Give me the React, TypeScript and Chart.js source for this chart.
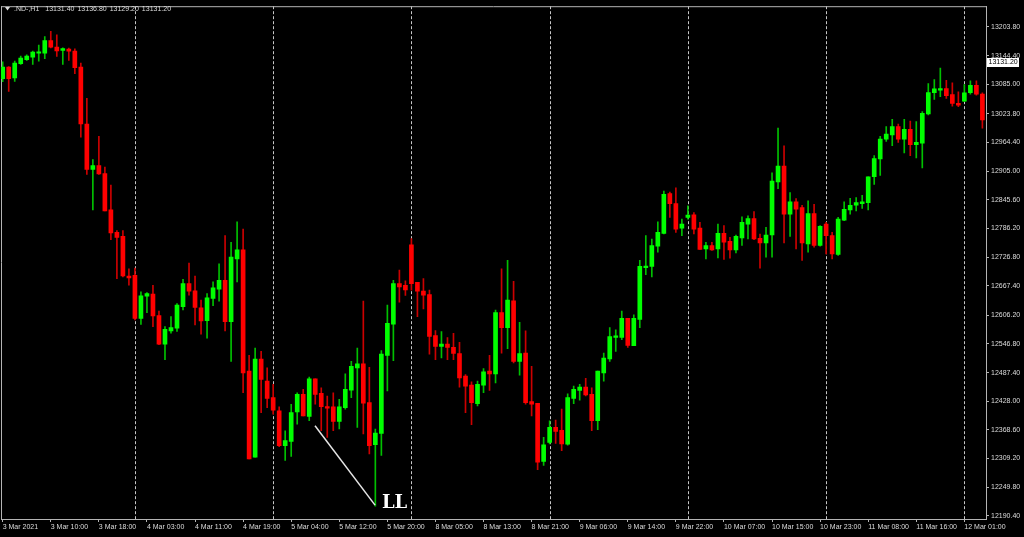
import React, { useEffect, useRef } from 'react';
import { Chart, registerables } from 'chart.js';

Chart.register(...registerables);

// ---- Data (hourly OHLC, .ND-,H1) ----
const opens = [
  13096.8, 13120.9, 13098.2, 13127.6, 13135.9, 13141.4, 13149.6, 13149.6, 13175.5, 13162.0,
  13155.0, 13157.9, 13153.8, 13120.9, 13002.8, 12908.3, 12916.5, 12900.0, 12824.8, 12778.1,
  12769.9, 12687.7, 12689.1, 12599.9, 12645.9, 12650.0, 12605.4, 12546.4, 12574.0, 12579.3,
  12623.9, 12671.8, 12656.8, 12621.9, 12595.1, 12641.0, 12660.3, 12678.8, 12593.1, 12723.2,
  12741.7, 12490.3, 12312.0, 12515.6, 12469.7, 12435.4, 12408.0, 12336.1, 12344.9, 12406.0,
  12442.4, 12396.3, 12474.5, 12444.4, 12416.9, 12416.3, 12386.0, 12414.8, 12451.2, 12497.1,
  12505.3, 12425.1, 12338.1, 12361.4, 12523.2, 12587.9, 12671.8, 12668.5, 12752.0, 12674.7,
  12656.2, 12649.2, 12564.3, 12541.7, 12546.4, 12539.6, 12526.7, 12480.0, 12461.5, 12423.0,
  12461.5, 12490.3, 12484.7, 12611.6, 12580.7, 12636.3, 12510.8, 12527.9, 12427.2, 12423.9,
  12303.2, 12342.9, 12373.7, 12367.9, 12339.2, 12434.1, 12450.2, 12457.4, 12442.4, 12387.5,
  12486.8, 12515.6, 12560.2, 12560.2, 12599.9, 12543.1, 12597.8, 12704.7, 12707.6, 12749.3,
  12776.1, 12858.3, 12837.7, 12787.0, 12809.0, 12814.5, 12787.0, 12743.8, 12750.8, 12743.8,
  12776.1, 12759.6, 12741.7, 12766.4, 12795.2, 12806.9, 12765.8, 12756.1, 12772.6, 12882.4,
  12915.3, 12815.7, 12841.2, 12829.5, 12754.1, 12817.2, 12750.8, 12795.2, 12771.3, 12732.3,
  12803.4, 12824.8, 12834.2, 12837.7, 12839.8, 12893.3, 12930.3, 12971.4, 12980.2, 12997.5,
  12971.4, 12991.9, 12959.7, 12963.2, 13023.4, 13067.4, 13072.7, 13076.2, 13063.9, 13045.4,
  13050.1, 13067.4, 13083.0, 13064.5,
];

const highs = [
  13131.8, 13121.5, 13133.2, 13143.5, 13146.1, 13153.8, 13166.1, 13183.8, 13194.9, 13187.3,
  13160.5, 13159.9, 13158.5, 13129.1, 13055.7, 12928.8, 12976.9, 12913.2, 12876.2, 12781.6,
  12781.6, 12702.7, 12704.1, 12654.8, 12653.3, 12668.5, 12615.1, 12582.8, 12603.4, 12630.7,
  12680.9, 12714.4, 12687.7, 12637.7, 12651.3, 12675.3, 12712.9, 12771.3, 12757.6, 12800.1,
  12784.9, 12523.2, 12538.2, 12531.4, 12497.1, 12462.9, 12416.3, 12366.9, 12421.8, 12445.7,
  12452.7, 12477.9, 12474.5, 12455.9, 12438.9, 12445.7, 12432.1, 12484.7, 12510.8, 12538.2,
  12635.6, 12498.5, 12370.4, 12532.8, 12627.4, 12678.8, 12700.0, 12677.4, 12765.2, 12674.7,
  12682.1, 12658.3, 12574.6, 12572.5, 12560.2, 12569.0, 12549.9, 12483.5, 12468.3, 12469.7,
  12495.8, 12523.2, 12617.1, 12702.7, 12719.9, 12676.8, 12591.6, 12574.0, 12500.6, 12423.9,
  12353.1, 12387.5, 12388.9, 12411.5, 12443.6, 12459.4, 12462.9, 12475.3, 12455.9, 12490.3,
  12527.9, 12580.7, 12576.0, 12615.1, 12599.9, 12606.9, 12719.9, 12771.3, 12764.3, 12800.1,
  12863.9, 12861.8, 12870.6, 12805.5, 12833.0, 12819.2, 12798.7, 12757.6, 12757.6, 12795.2,
  12791.9, 12767.8, 12772.6, 12810.4, 12812.5, 12821.3, 12774.6, 12788.4, 12901.5, 12994.0,
  12957.6, 12860.4, 12848.0, 12834.2, 12843.3, 12836.3, 12791.9, 12798.7, 12778.1, 12809.0,
  12841.2, 12848.6, 12850.1, 12854.8, 12893.3, 12937.1, 12976.9, 12997.5, 13012.5, 13002.8,
  13012.5, 13009.0, 13007.8, 13028.3, 13086.5, 13094.7, 13118.8, 13093.3, 13088.0, 13069.5,
  13084.5, 13092.1, 13092.1, 13067.4,
];

const lows = [
  13090.6, 13070.1, 13091.2, 13126.2, 13134.4, 13126.2, 13133.2, 13137.9, 13160.5, 13142.6,
  13126.2, 13134.4, 13107.1, 12975.5, 12898.0, 12824.8, 12898.0, 12822.7, 12763.1, 12682.1,
  12685.6, 12668.5, 12596.6, 12587.5, 12611.6, 12582.8, 12545.2, 12514.3, 12569.0, 12572.5,
  12617.1, 12648.0, 12586.3, 12567.0, 12558.7, 12626.0, 12635.6, 12574.0, 12510.8, 12675.3,
  12445.7, 12308.7, 12312.0, 12404.5, 12414.8, 12401.3, 12334.0, 12305.2, 12313.5, 12380.7,
  12397.8, 12387.5, 12421.8, 12366.9, 12353.1, 12366.9, 12370.4, 12411.5, 12435.4, 12373.7,
  12360.1, 12319.0, 12210.7, 12315.5, 12449.2, 12512.3, 12633.6, 12647.6, 12658.3, 12603.4,
  12619.2, 12525.8, 12514.3, 12517.6, 12514.3, 12514.3, 12457.4, 12404.5, 12379.3, 12418.3,
  12445.7, 12450.6, 12466.2, 12527.9, 12536.9, 12507.3, 12482.1, 12421.8, 12397.8, 12286.1,
  12295.0, 12339.6, 12340.8, 12325.8, 12337.1, 12423.0, 12430.0, 12438.9, 12366.9, 12369.0,
  12469.7, 12510.8, 12531.4, 12555.5, 12539.6, 12543.1, 12580.7, 12690.3, 12685.6, 12737.0,
  12774.6, 12809.0, 12778.1, 12771.3, 12805.5, 12774.6, 12742.5, 12723.2, 12740.5, 12725.3,
  12722.0, 12724.7, 12735.6, 12750.8, 12764.3, 12763.1, 12704.1, 12726.7, 12726.7, 12868.6,
  12756.1, 12769.9, 12743.8, 12719.9, 12737.0, 12747.3, 12749.3, 12733.5, 12723.2, 12730.2,
  12802.2, 12815.7, 12822.7, 12827.5, 12824.8, 12877.4, 12895.9, 12966.7, 12957.6, 12964.6,
  12942.6, 12937.1, 12932.3, 12911.8, 13021.3, 13053.6, 13059.2, 13055.7, 13039.8, 13038.6,
  13048.9, 13064.5, 13062.5, 12994.0,
];

const closes = [
  13120.9, 13096.8, 13129.1, 13139.4, 13143.5, 13151.7, 13152.3, 13175.5, 13162.0, 13154.4,
  13159.1, 13153.8, 13119.4, 13002.8, 12908.3, 12916.5, 12899.4, 12822.7, 12776.7, 12767.8,
  12687.7, 12683.5, 12599.9, 12646.5, 12651.3, 12604.8, 12546.4, 12577.2, 12580.7, 12627.4,
  12671.8, 12656.2, 12622.5, 12594.5, 12642.4, 12663.0, 12678.8, 12593.1, 12726.7, 12741.7,
  12486.8, 12308.7, 12515.6, 12473.2, 12434.1, 12409.5, 12336.1, 12346.4, 12404.5, 12442.4,
  12397.8, 12474.5, 12442.4, 12416.9, 12413.6, 12386.0, 12416.3, 12452.7, 12500.6, 12505.3,
  12423.9, 12336.1, 12362.2, 12525.8, 12589.6, 12671.8, 12665.0, 12658.9, 12671.8, 12656.2,
  12648.0, 12562.2, 12541.7, 12546.4, 12539.6, 12527.3, 12476.5, 12459.4, 12425.1, 12462.9,
  12488.8, 12484.7, 12611.6, 12580.7, 12637.7, 12510.8, 12526.7, 12425.1, 12421.8, 12301.7,
  12337.5, 12373.7, 12365.5, 12339.6, 12435.8, 12452.7, 12457.4, 12440.9, 12387.5, 12490.3,
  12517.6, 12562.2, 12563.7, 12599.9, 12543.7, 12599.9, 12707.6, 12708.2, 12750.8, 12778.1,
  12856.9, 12837.7, 12784.9, 12795.2, 12813.7, 12784.9, 12742.5, 12750.8, 12741.7, 12776.1,
  12757.6, 12741.7, 12769.9, 12798.7, 12806.9, 12764.3, 12756.1, 12772.6, 12884.4, 12915.3,
  12815.7, 12841.2, 12826.0, 12756.1, 12817.2, 12750.8, 12790.5, 12771.3, 12733.5, 12805.5,
  12826.0, 12834.2, 12839.8, 12841.2, 12893.3, 12930.9, 12971.4, 12981.7, 12997.5, 12971.4,
  12991.9, 12959.7, 12964.6, 13024.8, 13068.0, 13075.6, 13076.2, 13061.2, 13045.4, 13041.9,
  13067.4, 13083.0, 13064.5, 13011.1,
];

// Time axis labels, one every 8 bars
const timeLabels = [
  '3 Mar 2021', '3 Mar 10:00', '3 Mar 18:00', '4 Mar 03:00', '4 Mar 11:00', '4 Mar 19:00',
  '5 Mar 04:00', '5 Mar 12:00', '5 Mar 20:00', '8 Mar 05:00', '8 Mar 13:00', '8 Mar 21:00',
  '9 Mar 06:00', '9 Mar 14:00', '9 Mar 22:00', '10 Mar 07:00', '10 Mar 15:00', '10 Mar 23:00',
  '11 Mar 08:00', '11 Mar 16:00', '12 Mar 01:00',
];
const labelStep = 8;

// Bars where a new trading day starts (period separators)
const daySeparators = [22, 45, 68, 91, 114, 137, 160];

// Price axis ticks
const priceTicks = [
  13203.8, 13144.4, 13085.0, 13023.8, 12964.4, 12905.0, 12845.6, 12786.2, 12726.8,
  12667.4, 12606.2, 12546.8, 12487.4, 12428.0, 12368.6, 12309.2, 12249.8, 12190.4,
];
const priceMin = 12183.9;
const priceMax = 13246.9;

// Header / current price
const headerSymbol = '.ND-,H1';
const headerValues = ['13131.40', '13136.80', '13129.20', '13131.20'];
const lastPrice = 13131.2;

// "LL" annotation (bar index / price)
const annotationLine = [
  { x: 51.96, y: 12377.2 },
  { x: 61.95, y: 12212.7 },
];
const annotationText = 'LL';
const annotationTextPos = { x: 63.1, y: 12206.5 };

// ---- Styles ----
const BULL = '#00ff00';
const BEAR = '#ff0000';
const BULL_WICK = '#00c000';
const BEAR_WICK = '#cc0000';
const AXIS = '#b4b4b4';
const TEXT = '#dcdcdc';
const SEP = '#c8c8c8';
const FONT = '"Liberation Sans", Arial, sans-serif';
const FONT_SIZE = 7;

const overlayPlugin = {
  id: 'mtOverlay',
  beforeDatasetsDraw(chart: any) {
    const { ctx, chartArea: a, scales } = chart;
    const xs = scales.x;
    ctx.save();
    ctx.lineWidth = 1;
    ctx.strokeStyle = SEP;
    ctx.setLineDash([3, 2]);
    daySeparators.forEach((i) => {
      const x = Math.round(xs.getPixelForValue(i)) + 0.5;
      ctx.beginPath();
      ctx.moveTo(x, a.top);
      ctx.lineTo(x, a.bottom);
      ctx.stroke();
    });
    ctx.setLineDash([]);
    ctx.strokeStyle = AXIS;
    ctx.beginPath();
    ctx.moveTo(a.left + 0.5, a.top);
    ctx.lineTo(a.left + 0.5, a.bottom);
    ctx.moveTo(a.left, a.top + 0.5);
    ctx.lineTo(a.right, a.top + 0.5);
    ctx.stroke();
    ctx.restore();
  },
  afterDraw(chart: any) {
    const { ctx, scales } = chart;
    const xs = scales.x;
    const ys = scales.y;
    ctx.save();
    // header
    ctx.fillStyle = TEXT;
    ctx.beginPath();
    ctx.moveTo(5, 7);
    ctx.lineTo(10, 7);
    ctx.lineTo(7.5, 10.5);
    ctx.closePath();
    ctx.fill();
    ctx.font = `${FONT_SIZE}px ${FONT}`;
    ctx.textBaseline = 'middle';
    ctx.textAlign = 'left';
    let hx = 14;
    ctx.fillText(headerSymbol, hx, 9);
    hx += ctx.measureText(headerSymbol).width + 6;
    headerValues.forEach((v) => {
      ctx.fillText(v, hx, 9);
      hx += ctx.measureText(v).width + 3;
    });

    // current price tag
    const py = Math.round(ys.getPixelForValue(lastPrice));
    ctx.fillStyle = '#ffffff';
    ctx.fillRect(987, py - 4, 32, 9);
    ctx.fillStyle = '#000000';
    ctx.fillText(lastPrice.toFixed(2), 988.5, py + 0.5);

    // annotation text
    ctx.fillStyle = '#ffffff';
    ctx.font = 'bold 18px "DejaVu Serif", "Liberation Serif", serif';
    ctx.textBaseline = 'alphabetic';
    ctx.fillText(annotationText, xs.getPixelForValue(annotationTextPos.x), ys.getPixelForValue(annotationTextPos.y));
    ctx.restore();
  },
};

export default function App() {
  const ref = useRef<HTMLCanvasElement>(null);

  useEffect(() => {
    if (!ref.current) return;
    const bull = closes.map((c, i) => c >= opens[i]);
    const chart = new Chart(ref.current, {
      type: 'bar',
      data: {
        datasets: [
          {
            type: 'line' as const,
            data: annotationLine,
            borderColor: '#e6e6e6',
            borderWidth: 1.5,
            pointRadius: 0,
            order: -1,
          } as any,
          {
            data: opens.map((o, i) => ({ x: i, y: [o, closes[i]] })),
            backgroundColor: bull.map((b) => (b ? BULL : BEAR)),
            barThickness: 4,
            minBarLength: 1,
            grouped: false,
            borderWidth: 0,
            order: 0,
          } as any,
          {
            data: lows.map((l, i) => ({ x: i, y: [l, highs[i]] })),
            backgroundColor: bull.map((b) => (b ? BULL_WICK : BEAR_WICK)),
            barThickness: 1,
            grouped: false,
            borderWidth: 0,
            order: 1,
          } as any,
        ],
      },
      options: {
        responsive: false,
        devicePixelRatio: 1,
        animation: false,
        events: [],
        layout: { padding: { top: 2, left: 1, right: 0, bottom: 0 } },
        plugins: { legend: { display: false }, tooltip: { enabled: false } },
        scales: {
          x: {
            type: 'linear',
            min: -0.283,
            max: 163.6,
            offset: false,
            afterBuildTicks: (s: any) => {
              s.ticks = timeLabels.map((_, k) => ({ value: k * labelStep }));
            },
            afterFit: (s: any) => {
              s.height = 18;
            },
            ticks: {
              autoSkip: false,
              maxRotation: 0,
              minRotation: 0,
              align: 'start',
              padding: 1,
              color: TEXT,
              font: { family: FONT, size: FONT_SIZE },
              callback: (_v: any, idx: number) => timeLabels[idx] ?? '',
            },
            grid: {
              offset: false,
              drawOnChartArea: false,
              drawTicks: true,
              tickLength: 3,
              tickColor: AXIS,
              color: AXIS,
            },
            border: { display: true, color: AXIS },
          },
          y: {
            position: 'right',
            min: priceMin,
            max: priceMax,
            afterBuildTicks: (s: any) => {
              s.ticks = priceTicks.map((v) => ({ value: v }));
            },
            afterFit: (s: any) => {
              s.width = 38;
            },
            ticks: {
              autoSkip: false,
              padding: 2,
              color: TEXT,
              font: { family: FONT, size: FONT_SIZE },
              callback: (v: any) => Number(v).toFixed(2),
            },
            grid: {
              drawOnChartArea: false,
              drawTicks: true,
              tickLength: 3,
              tickColor: AXIS,
              color: AXIS,
            },
            border: { display: true, color: AXIS },
          },
        },
      } as any,
      plugins: [overlayPlugin],
    });
    return () => chart.destroy();
  }, []);

  return (
    <div style={{ position: 'fixed', left: 0, top: 0, width: 1024, height: 537, background: '#000' }}>
      <canvas ref={ref} width={1024} height={537} style={{ display: 'block', width: 1024, height: 537 }} />
    </div>
  );
}
